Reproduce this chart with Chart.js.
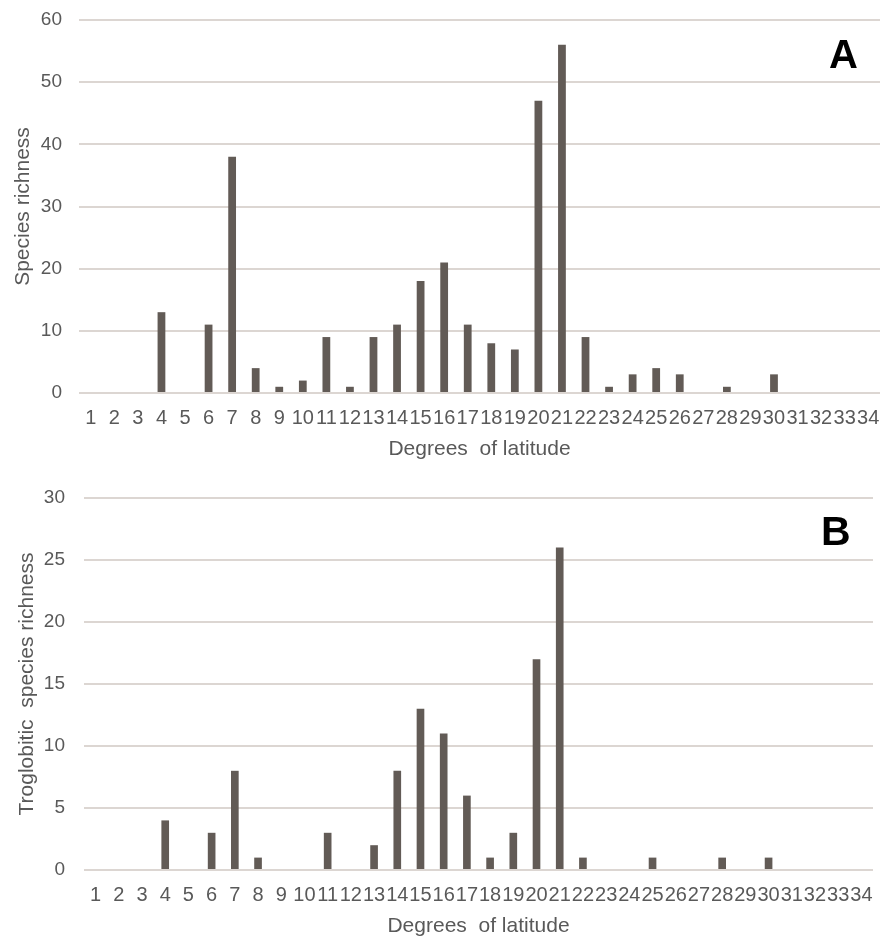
<!DOCTYPE html>
<html>
<head>
<meta charset="utf-8">
<script src="https://cdn.jsdelivr.net/npm/chart.js@4"></script>
<style>
  body { margin: 0; background: #fff; }
  .panel { position: absolute; left: 0; width: 882px; }
  .tag { position: absolute; font: bold 40px/40px "Liberation Sans", Arial, sans-serif; color: #000; }
</style>
</head>
<body>
<div class="panel" style="top:0; height:470px;"><canvas id="chartA"></canvas></div>
<div class="tag" style="left:829px; top:34px;">A</div>
<div class="panel" style="top:478px; height:461px;"><canvas id="chartB"></canvas></div>
<div class="tag" style="left:821px; top:511px; font-size:41px;">B</div>
<script>
(function () {
    // 緯度 1〜34
    const latitudes = ['1','2','3','4','5','6','7','8','9','10','11','12','13','14','15','16','17',
                       '18','19','20','21','22','23','24','25','26','27','28','29','30','31','32','33','34'];
    // A: 種数
    const speciesRichness = [0,0,0,13,0,11,38,4,1,2,9,1,9,11,18,21,11,8,7,47,56,9,1,3,4,3,0,1,0,3,0,0,0,0];
    // B: 真洞窟性種数
    const troglobiticRichness = [0,0,0,4,0,3,8,1,0,0,3,0,2,8,13,11,6,1,3,17,26,1,0,0,1,0,0,1,0,1,0,0,0,0];

    const barColor = '#625b56';
    const gridColor = '#dcd6d2';
    const textColor = '#595959';
    const fontFamily = '"Liberation Sans", Arial, sans-serif';

    function makeChart(id, values, yTitle, yMax, yStep, yWidth, yPad, titlePad, pad) {
        const ctx = document.getElementById(id).getContext('2d');
        return new Chart(ctx, {
            type: 'bar',
            data: {
                labels: latitudes,
                datasets: [{
                    data: values,
                    backgroundColor: barColor,
                    borderWidth: 0,
                    barPercentage: 0.33,
                    categoryPercentage: 1.0
                }]
            },
            options: {
                responsive: true,
                maintainAspectRatio: false,
                animation: false,
                layout: { padding: pad },
                plugins: {
                    legend: { display: false },
                    tooltip: { enabled: false }
                },
                scales: {
                    x: {
                        grid: { display: false, drawTicks: false },
                        border: { display: false },
                        afterFit: function (scale) {
                            scale.height = 69;
                            scale.paddingLeft = 0;
                            scale.paddingRight = 0;
                        },
                        ticks: {
                            color: textColor,
                            autoSkip: false,
                            maxRotation: 0,
                            padding: 13,
                            font: { family: fontFamily, size: 20 }
                        },
                        title: {
                            display: true,
                            text: 'Degrees  of latitude',
                            color: textColor,
                            padding: { top: 0, bottom: 0 },
                            font: { family: fontFamily, size: 21 }
                        }
                    },
                    y: {
                        min: 0,
                        max: yMax,
                        grid: { color: gridColor, lineWidth: 2, drawTicks: false },
                        border: { display: false },
                        afterFit: function (scale) {
                            scale.width = yWidth;
                            scale.paddingTop = 0;
                            scale.paddingBottom = 0;
                        },
                        ticks: {
                            stepSize: yStep,
                            color: textColor,
                            padding: yPad,
                            font: { family: fontFamily, size: 19 }
                        },
                        title: {
                            display: true,
                            text: yTitle,
                            color: textColor,
                            padding: { top: titlePad, bottom: 0 },
                            font: { family: fontFamily, size: 21 }
                        }
                    }
                }
            }
        });
    }

    makeChart('chartA', speciesRichness, 'Species richness', 60, 10, 79, 17, 11,
              { top: 20, right: 2, left: 0, bottom: 8 });
    makeChart('chartB', troglobiticRichness, 'Troglobitic  species richness', 30, 5, 84, 19, 15,
              { top: 20, right: 9, left: 0, bottom: 0 });
})();
</script>
</body>
</html>
